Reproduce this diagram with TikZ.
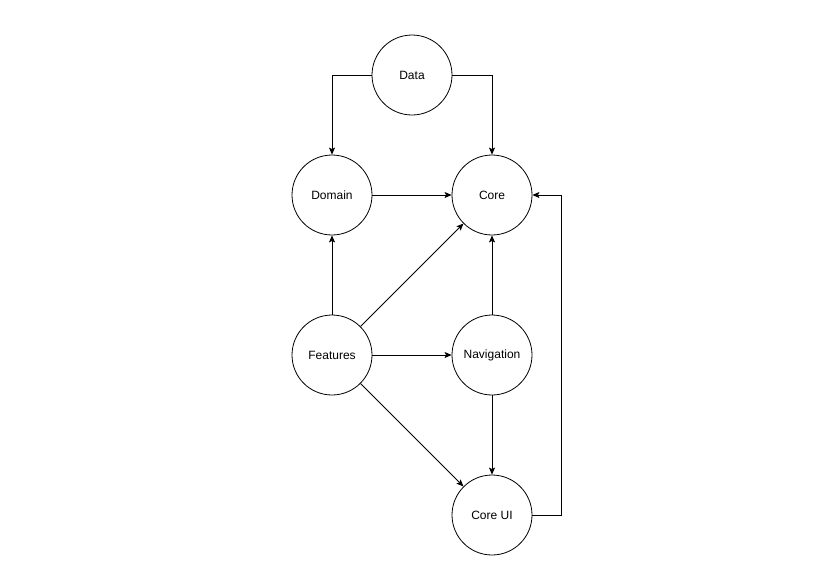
\documentclass[tikz,border=0pt]{standalone}
\usepackage{fontspec}
\setmainfont{Liberation Sans}
\usetikzlibrary{arrows.meta,positioning}

\begin{document}
\begin{tikzpicture}[x=1pt,y=1pt,node distance=160pt,on grid,>={Stealth[length=7pt,width=6pt,inset=1.5pt]},line width=0.8pt]

      \tikzstyle{module}=[circle,draw=black,minimum size=80pt,inner sep=0pt,font=\fontsize{12}{14}\selectfont]
      \tikzstyle{dep}=[->]

      \useasboundingbox (0,0) rectangle (832,-574);

        \node [module] (domain) at (332,-195) {Domain};                 %row 2
        \node [module] (core) [right=of domain] {Core};
        \node [module] (data) [above right=120pt and 80pt of domain] {Data}; %top
        \node [module] (features) [below=of domain] {Features};          %row 3
        \node [module] (nav) [right=of features] {Navigation};
        \node [module] (coreui) [below=of nav] {Core UI};               %bottom

        \draw [dep] (data.west) -| (domain.north);
        \draw [dep] (data.east) -| (core.north);
        \draw [dep] (domain) -- (core);
        \draw [dep] (features) -- (domain);
        \draw [dep] (features) -- (core);
        \draw [dep] (features) -- (nav);
        \draw [dep] (features) -- (coreui);
        \draw [dep] (nav) -- (core);
        \draw [dep] (nav) -- (coreui);
        \draw [dep] (coreui.east) -- ++(29,0) |- (core.east);

\end{tikzpicture}
\end{document}
